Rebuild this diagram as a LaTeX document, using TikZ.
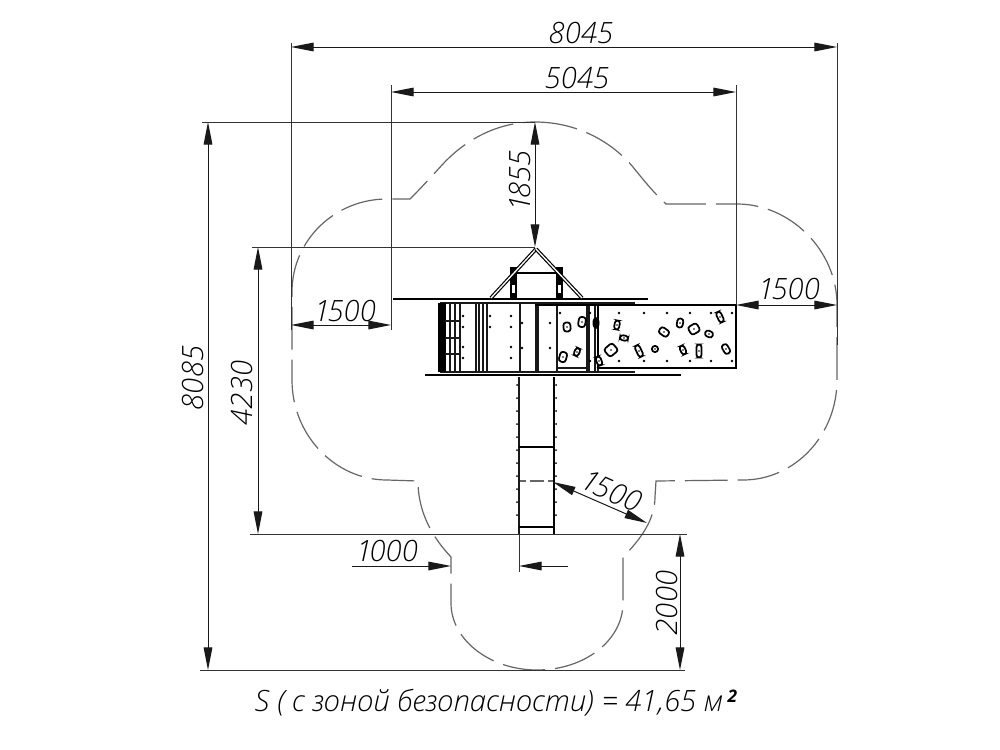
\documentclass[tikz,border=0pt]{standalone}
\usepackage{fontspec}
\setmainfont{Open Sans}
\newfontfamily\dimfont{Open Sans Light Italic}
\usepackage{tikz}
\usetikzlibrary{arrows.meta}

\begin{document}
\begin{tikzpicture}[x=0.75pt, y=-0.75pt]

    \tikzstyle{dimline} = [line width=0.75pt, black!90, {Stealth[length=17pt,width=6.5pt,inset=0pt]}-{Stealth[length=17pt,width=6.5pt,inset=0pt]}]
    \tikzstyle{leader} = [line width=0.75pt, black!80]
    \tikzstyle{dimtext} = [inner sep=0pt, font=\dimfont\fontsize{22}{24}\selectfont]
    \tikzstyle{zone} = [line width=0.9pt, black!60, dash pattern=on 32pt off 7.5pt, line join=miter]
    \tikzstyle{beam} = [line width=1.5pt, black]
    \tikzstyle{post} = [line width=1.1pt, black!90]
    \tikzstyle{rafter} = [line width=0.9pt, black, double=white, double distance=1pt]
    \tikzstyle{hold} = [line width=1.3pt, black, fill=white, rounded corners=2pt]

    \useasboundingbox (0,0) rectangle (1000,750);
    \fill[white] (0,0) rectangle (1000,750);

    % safety zone
    \draw[zone] (535,122) .. controls (575,122) and (610,140) .. (633,167)
        .. controls (645,182) and (655,194) .. (666,204) -- (737,204)
        .. controls (790,204) and (837,250) .. (837,305) -- (837,380)
        .. controls (837,435) and (795,480) .. (743,480) -- (656,481) -- (655,497)
        .. controls (655,520) and (640,540) .. (623,557) -- (623,603)
        .. controls (623,640) and (585,670) .. (537,670)
        .. controls (490,670) and (451,640) .. (451,603) -- (451,557)
        .. controls (435,540) and (418,515) .. (418,481) -- (387,480)
        .. controls (335,480) and (292,435) .. (292,380) -- (292,292)
        .. controls (292,240) and (335,199) .. (387,199) -- (410,199)
        .. controls (422,187) and (432,176) .. (442,165)
        .. controls (465,140) and (497,122) .. (535,122);
    \draw[zone, dash pattern=on 5pt off 3pt on 11pt off 3pt on 5pt] (519,481) -- (554,481);

    % slide
    \draw[post, line width=1.2pt] (519,377) -- (519,534);
    \draw[beam, line width=1.8pt] (554,377) -- (554,534);
    \draw[beam, line width=1pt] (519,447) -- (554,447);
    \draw[beam, line width=1pt] (519,527) -- (554,527);
    \foreach \y in {385,398,...,525} {
        \fill (517,\y) circle (1);
        \fill (556,\y) circle (1);
    }

    % platform
    \draw[beam, line width=1.8pt] (393,299) -- (648,299);
    \draw[post] (440,303) -- (635,303);
    \draw[beam, line width=1.8pt] (425,375) -- (681,375);
    \draw[post] (440,372) -- (635,372);
    \fill (438,303) rectangle (446,372);
    \foreach \x in {450,455,460} \draw[post, line width=1.5pt] (\x,303) -- (\x,372);
    \foreach \y in {321,338,354} \draw[post, line width=1.5pt] (445,\y) -- (460,\y);
    \foreach \x in {476,479,483,487,520,536,538,557,587,589,595,598} \draw[post] (\x,303) -- (\x,372);
    \draw[post] (557,368) -- (590,368);

    % roof
    \fill (510,267) rectangle (517,298);
    \fill (556,267) rectangle (563,298);
    \fill[white] (512,285) rectangle (515,293);
    \fill[white] (558,285) rectangle (561,293);
    \fill[white] (517,273) rectangle (556,298);
    \draw[beam] (516,273) -- (557,273);
    \draw[rafter] (536,249) -- (491,298);
    \draw[rafter] (536,249) -- (582,298);

    % climbing wall
    \draw[beam, fill=white] (598,305) rectangle (736,368);
    \draw[beam] (535,305) -- (598,305);
    \foreach \x in {619,644,667,690,711,732} {
        \fill (\x,313) circle (1.4);
        \fill (\x,361) circle (1.4);
    }
    \foreach \x/\y in {463/316,463/327,463/347,463/358,490/316,490/327,511/316,511/327,511/347,511/358,522/323,522/348,550/323,550/348,560/313,590/313,590/361} {
        \fill (\x,\y) circle (1.4);
    }
    \foreach \x/\y/\w/\h/\a in {617/325/2.5/4.5/-10,624/338/4/2.5/-10,611/350/5.5/5/40,639/351/2.5/6/25,655/349/3/3/0,664/332/5/3.5/-35,680/323/3/4.5/-10,694/329/5/4.5/30,709/334/4/3/-25,720/317/2.5/5.5/25,683/350/2.5/4.5/25,699/351/2.5/6.5/0,726/349/3/5/30,599/361/2.5/4.5/20,567/327/3.5/4.5/5,582/322/3.5/5/-10,563/357/3.5/5/-15,577/352/2.5/4/-25} {
        \draw[hold, rotate around={\a:(\x,\y)}] (\x-\w,\y-\h) rectangle (\x+\w,\y+\h);
        \fill (\x,\y) circle (0.8);
    }
    \fill (596,323) ellipse (3.5 and 6);

    % leaders
    \coordinate (leftTop) at (291,43);
    \coordinate (leftEnd) at (291,330);
    \coordinate (rightTop) at (837,43);
    \coordinate (rightEnd) at (837,345);
    \coordinate (innerTop) at (391,85);
    \coordinate (innerEnd) at (391,330);
    \coordinate (wallTop) at (736,85);
    \coordinate (wallEnd) at (736,305);
    \draw[leader] (leftTop) -- (leftEnd);
    \draw[leader] (rightTop) -- (rightEnd);
    \draw[leader] (innerTop) -- (innerEnd);
    \draw[leader] (wallTop) -- (wallEnd);
    \draw[leader] (202,122) -- (535,122);
    \draw[leader] (252,247) -- (535,247);
    \draw[leader] (250,534) -- (687,534);
    \draw[leader] (200,670) -- (685,670);
    \draw[leader] (519,534) -- (519,572);

    % dimensions
    \draw[dimline] (291,47) -- (837,47);
    \draw[dimline] (391,92) -- (736,92);
    \draw[dimline] (291,325) -- (391,325);
    \draw[dimline] (736,305) -- (837,305);
    \draw[dimline] (208,122) -- (208,670);
    \draw[dimline] (258,247) -- (258,534);
    \draw[dimline] (535,122) -- (535,247);
    \draw[dimline] (680,534) -- (680,670);
    \draw[dimline] (553,482) -- (647,523);
    \draw[dimline, {Stealth[length=17pt,width=6.5pt,inset=0pt]}-{}] (451,566) -- (352,566);
    \draw[dimline, {Stealth[length=17pt,width=6.5pt,inset=0pt]}-{}] (519,566) -- (568,566);

    % texts
    \node[dimtext] (topWidth) at (581,33) {8045};
    \node[dimtext] (wallWidth) at (577,78) {5045};
    \node[dimtext] (leftZone) at (345,311) {1\kern-2pt 500};
    \node[dimtext] (rightZone) at (789,289) {1\kern-2pt 500};
    \node[dimtext, rotate=90] (fullHeight) at (193,378) {8085};
    \node[dimtext, rotate=90] (towerHeight) at (242,393) {4230};
    \node[dimtext, rotate=90] (roofZone) at (520,181) {1\kern-2pt 855};
    \node[dimtext, rotate=90] (lowerZone) at (667,603) {2000};
    \node[dimtext, rotate=-24] (slideZone) at (612,491) {1\kern-2pt 500};
    \node[dimtext] (slideWidth) at (387,551) {1\kern-2pt 000};
    \node[dimtext] (area) at (496,703) {S ( с зоной безопасности) = 41,65 м\,\raisebox{7pt}{\normalfont\bfseries\itshape\fontsize{13}{13}\selectfont 2}};

\end{tikzpicture}
\end{document}
